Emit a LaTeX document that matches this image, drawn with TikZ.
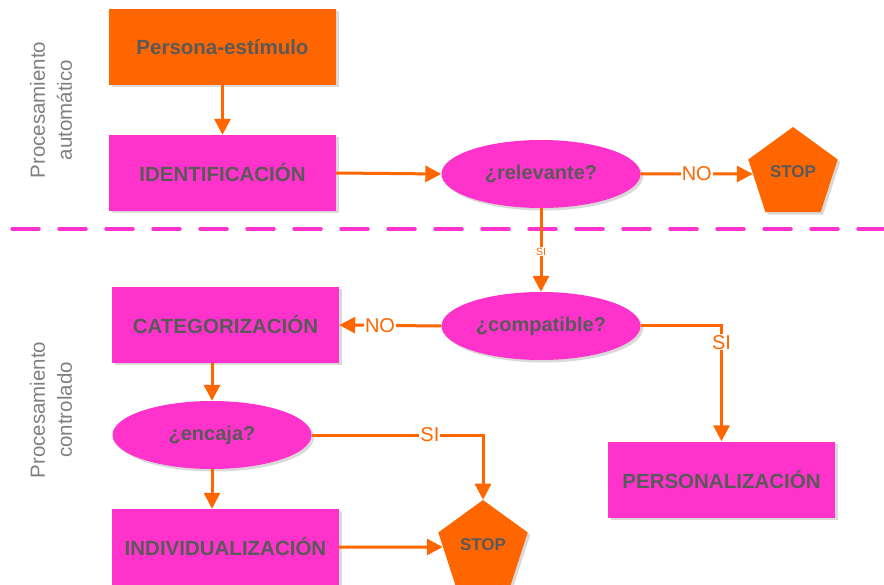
\documentclass[tikz,border=0pt]{standalone}
\usepackage{fontspec}
\setmainfont{Liberation Sans}
\usepackage{xcolor}
\usepackage{tikz}
\usetikzlibrary{shapes.geometric, arrows.meta, shadows}

\definecolor{naranja}{HTML}{FF6600}
\definecolor{rosa}{HTML}{FF33CC}
\definecolor{gristexto}{HTML}{595959}
\definecolor{grisetiq}{HTML}{808080}

\begin{document}
\begin{tikzpicture}[x=1pt, y=-1pt,
  sombra/.style={drop shadow={shadow xshift=2.5pt, shadow yshift=-2.5pt, fill=black, opacity=0.15}},
  caja/.style={rectangle, fill=rosa, minimum width=227pt, minimum height=76pt, inner sep=0pt,
    text=gristexto, font=\fontsize{20.5}{24}\selectfont\bfseries, sombra},
  inicio/.style={caja, fill=naranja},
  decision/.style={ellipse, fill=rosa, minimum width=199pt, minimum height=68pt, inner sep=0pt,
    text=gristexto, font=\fontsize{20}{24}\selectfont\bfseries, sombra},
  parada/.style={regular polygon, regular polygon sides=5, minimum size=94pt, inner sep=0pt,
    fill=naranja, text=gristexto, font=\fontsize{17}{20}\selectfont\bfseries, sombra},
  flecha/.style={draw=naranja, line width=3pt, -{Triangle[length=16pt, width=16pt]}},
  etiq/.style={fill=white, text=naranja, inner sep=1pt, font=\fontsize{20}{22}\selectfont},
  etiqchica/.style={etiq, font=\fontsize{10.5}{12}\selectfont},
  lado/.style={rotate=90, align=center, text=grisetiq, font=\fontsize{20.5}{27}\selectfont}]
  \useasboundingbox (0,0) rectangle (884,585);

  % zone labels and divider
  \node[lado] (auto) at (51,110) {Procesamiento\\automático};
  \node[lado] (contr) at (51,410) {Procesamiento\\controlado};
  \draw[rosa, line width=3.5pt, line cap=round, dash pattern=on 27pt off 20pt] (12,229) -- (884,229);

  % nodes
  \node[inicio] (persona) at (222.5,47) {Persona-estímulo};
  \node[caja] (identif) at (222.5,173) {IDENTIFICACIÓN};
  \node[decision] (relev) at (541,174) {¿relevante?};
  \node[parada] (stopa) at (793,174) {\raisebox{5pt}{STOP}};
  \node[decision] (compat) at (541,326) {¿compatible?};
  \node[caja] (categ) at (225.5,325) {CATEGORIZACIÓN};
  \node[decision] (encaja) at (212,435) {¿encaja?};
  \node[caja] (indiv) at (225.5,547) {INDIVIDUALIZACIÓN};
  \node[caja] (person) at (721.5,479.5) {PERSONALIZACIÓN};
  \node[parada] (stopb) at (483,547) {\raisebox{5pt}{STOP}};

  % connectors
  \draw[flecha] (persona) -- (identif);
  \draw[flecha] (identif.east) -- (relev.west);
  \draw[flecha] (relev.east) -- node[etiq] {NO} (stopa);
  \draw[flecha] (relev) -- node[etiqchica, pos=0.52] {SI} (compat);
  \draw[flecha] (compat.west) -- node[etiq, pos=0.6] {NO} (categ.east);
  \draw[flecha] (compat.east) -| node[etiq, pos=0.57] {SI} (person.north);
  \draw[flecha] (categ.south -| encaja.north) -- (encaja.north);
  \draw[flecha] (encaja.south) -- (indiv.north -| encaja.south);
  \draw[flecha] (encaja.east) -| node[etiq, pos=0.345] {SI} (stopb.north);
  \draw[flecha] (indiv.east) -- (stopb);
\end{tikzpicture}
\end{document}
